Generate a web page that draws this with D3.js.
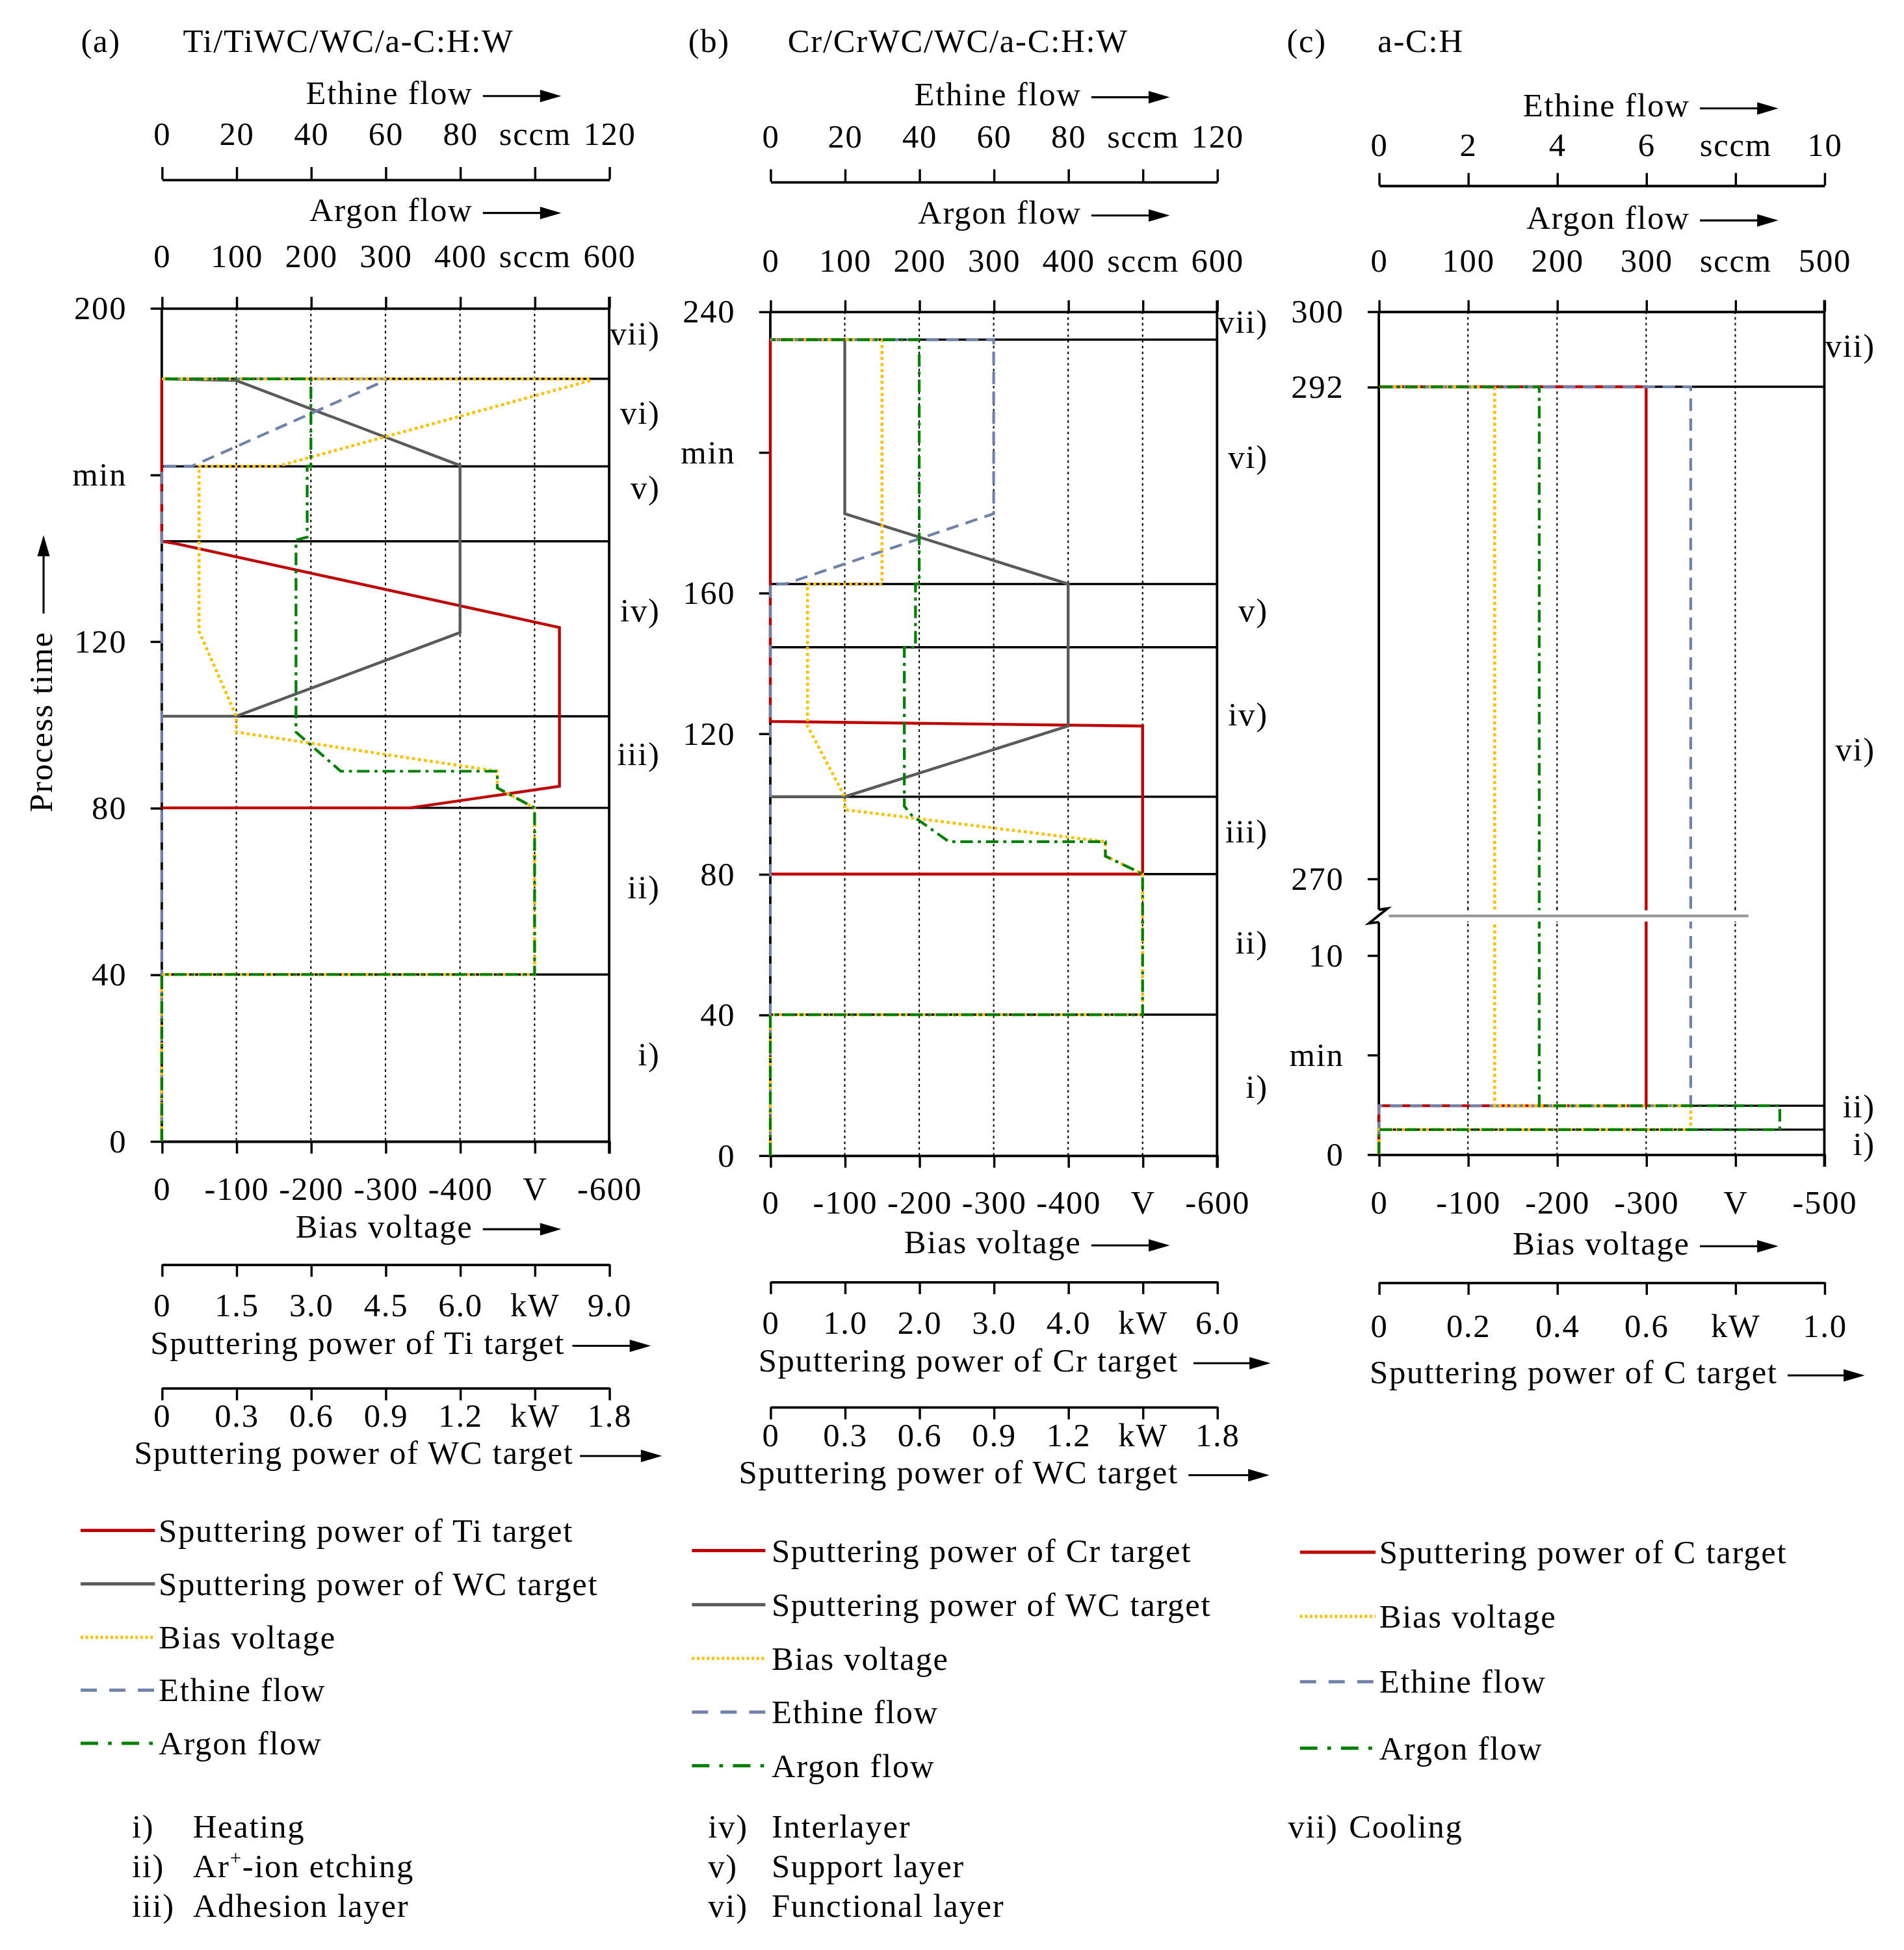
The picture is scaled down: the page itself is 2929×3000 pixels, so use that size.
<!DOCTYPE html>
<html lang="en">
<head>
<meta charset="UTF-8">
<title>Deposition process parameters</title>
<script src="https://cdn.jsdelivr.net/npm/d3@7"></script>
<style>
  body { margin: 0; background: #fff; }
  text { font-family: "Liberation Serif", "Times New Roman", serif; font-size: 26.5px; letter-spacing: 0.9px; fill: #000; }
</style>
</head>
<body>
<script>
// ---------- data ----------
// phase boundaries in min
var phasesA = [0, 40, 80, 102, 144, 162, 183, 200];
var phasesB = [0, 40, 80, 102, 144.5, 162.5, 232, 240];
var phasesC = [0, 1.24, 2.44, 292, 300];
var phaseNames = ["i)", "ii)", "iii)", "iv)", "v)", "vi)", "vii)"];
var phaseNamesC = ["i)", "ii)", "vi)", "vii)"];
// where the phase names sit (min)
var phaseLabelAtA = [21, 61, 93, 127.5, 157, 175, 194];
var phaseLabelAtB = [19.6, 60.7, 92.2, 125.5, 155.2, 198.8, 237.3];
var phaseLabelAtC = [0.55, 2.43, 275.8, 296.4];

// time axis ticks
var timeTicksA = [0, 40, 80, 120, 160, 200];
var timeLabelsA = ["0", "40", "80", "120", "min", "200"];
var timeTicksB = [0, 40, 80, 120, 160, 200, 240];
var timeLabelsB = ["0", "40", "80", "120", "160", "min", "240"];
var timeTicksC = [0, 5, 10, 270, 292, 300];
var timeLabelsC = ["0", "min", "10", "270", "292", "300"];

// value axes ticks
var ethineTicksAB = [0, 20, 40, 60, 80, 100, 120];
var ethineLabelsAB = ["0", "20", "40", "60", "80", "sccm", "120"];
var ethineTicksC = [0, 2, 4, 6, 8, 10];
var ethineLabelsC = ["0", "2", "4", "6", "sccm", "10"];
var argonTicksAB = [0, 100, 200, 300, 400, 500, 600];
var argonLabelsAB = ["0", "100", "200", "300", "400", "sccm", "600"];
var argonTicksC = [0, 100, 200, 300, 400, 500];
var argonLabelsC = ["0", "100", "200", "300", "sccm", "500"];
var biasTicksAB = [0, 100, 200, 300, 400, 500, 600];
var biasLabelsAB = ["0", "-100", "-200", "-300", "-400", "V", "-600"];
var biasTicksC = [0, 100, 200, 300, 400, 500];
var biasLabelsC = ["0", "-100", "-200", "-300", "V", "-500"];
var tiPowerTicks = [0, 1.5, 3, 4.5, 6, 7.5, 9];
var tiPowerLabels = ["0", "1.5", "3.0", "4.5", "6.0", "kW", "9.0"];
var crPowerTicks = [0, 1, 2, 3, 4, 5, 6];
var crPowerLabels = ["0", "1.0", "2.0", "3.0", "4.0", "kW", "6.0"];
var wcPowerTicks = [0, 0.3, 0.6, 0.9, 1.2, 1.5, 1.8];
var wcPowerLabels = ["0", "0.3", "0.6", "0.9", "1.2", "kW", "1.8"];
var cPowerTicks = [0, 0.2, 0.4, 0.6, 0.8, 1.0];
var cPowerLabels = ["0", "0.2", "0.4", "0.6", "kW", "1.0"];

// series: [time in min, value]
var tiPowerA = [[80, 0], [80, 5.0], [85.2, 8.0], [123.3, 8.0], [143.4, 0.3], [144, 0], [183, 0]];
var wcPowerA = [[102, 0], [102, 0.3], [122.1, 1.2], [162.2, 1.2], [182.6, 0.3], [183, 0]];
var biasA = [[0, 0], [40, 0], [40, 500], [80, 500], [84.8, 450], [88.8, 450], [98.2, 100], [102, 100],
             [122.4, 50], [162, 50], [162, 155], [182.6, 575], [183, 575], [183, 0]];
var ethineA = [[0, 0], [162, 0], [162, 8], [182.6, 60], [183, 60], [183, 0]];
var argonA = [[0, 0], [40, 0], [40, 500], [80, 500], [84.8, 450], [88.8, 450], [88.8, 240], [98.2, 180],
              [144.3, 180], [145, 195], [162, 195], [162, 200], [183, 200], [183, 0]];

var crPowerB = [[80, 0], [80, 5], [122.1, 5], [123.4, 0], [232, 0]];
var wcPowerB = [[102, 0], [102, 0.3], [122.1, 1.2], [162.5, 1.2], [182.5, 0.3], [232, 0.3], [232, 0]];
var biasB = [[0, 0], [40, 0], [40, 500], [80, 500], [85.1, 450], [89.2, 450], [98.3, 100], [102, 100],
             [122.1, 50], [162.5, 50], [162.5, 150], [232, 150], [232, 0]];
var ethineB = [[0, 0], [162.5, 0], [162.5, 4], [182.5, 60], [232, 60], [232, 0]];
var argonB = [[0, 0], [40, 0], [40, 500], [80, 500], [85.1, 450], [89.2, 450], [89.2, 240], [96.7, 190],
              [99.3, 180], [144.5, 180], [144.5, 195], [162.5, 195], [162.5, 200], [232, 200], [232, 0]];

var cPowerC = [[0, 0], [2.44, 0], [2.44, 0.6], [292, 0.6], [292, 0]];
var biasC = [[0, 0], [1.24, 0], [1.24, 350], [2.44, 350], [2.44, 130], [292, 130], [292, 0]];
var ethineC = [[0, 0], [2.44, 0], [2.44, 7], [292, 7], [292, 0]];
var argonC = [[0, 0], [1.24, 0], [1.24, 450], [2.44, 450], [2.44, 180], [292, 180], [292, 0]];

var legendA = ["Sputtering power of Ti target", "Sputtering power of WC target", "Bias voltage", "Ethine flow", "Argon flow"];
var legendB = ["Sputtering power of Cr target", "Sputtering power of WC target", "Bias voltage", "Ethine flow", "Argon flow"];
var legendC = ["Sputtering power of C target", "Bias voltage", "Ethine flow", "Argon flow"];

var stepsA = [["i)", "Heating"], ["ii)", "Ar+-ion etching"], ["iii)", "Adhesion layer"]];
var stepsB = [["iv)", "Interlayer"], ["v)", "Support layer"], ["vi)", "Functional layer"]];
var stepsC = [["vii)", "Cooling"]];

// ---------- styles ----------
var styles = {
    p1: { color: '#c00000', dash: null, width: 2.3, legDash: null },
    p2: { color: '#5a5a5a', dash: null, width: 2.3, legDash: null },
    bias: { color: '#ffc000', dash: '2.4,2.4', width: 2.4, legDash: '2,2' },
    eth: { color: '#6f82aa', dash: '10,6', width: 2.2, legDash: '13,10' },
    ar: { color: '#008000', dash: '10,4,2.5,4', width: 2.2, legDash: '14,8,3,8' }
};

var svg = d3.select('body')
    .append('svg')
    .attr('width', 2929)
    .attr('height', 3000)
    .attr('viewBox', '0 0 1530 1567');

function arrow(x1, x2, y) {
    svg.append('line')
        .attr('x1', x1).attr('x2', x2 - 12)
        .attr('y1', y).attr('y2', y)
        .attr('stroke', '#000').attr('stroke-width', 1.6);
    svg.append('path')
        .attr('d', 'M' + x2 + ',' + y + 'L' + (x2 - 17) + ',' + (y - 5) + 'L' + (x2 - 17) + ',' + (y + 5) + 'Z')
        .attr('fill', '#000');
}

function titleArrow(text, xEnd, y, a1, a2) {
    svg.append('text')
        .attr('x', xEnd).attr('y', y)
        .attr('text-anchor', 'end')
        .text(text);
    arrow(a1, a2, y - 6.5);
}

// style an axis: remove d3 fonts, set label baseline offset
function styleAxis(g, labelY, keepDomain) {
    g.attr('font-family', null).attr('font-size', null);
    g.selectAll('.tick line').attr('stroke-width', 1.8);
    g.select('.domain').attr('stroke-width', 2);
    if (!keepDomain) g.select('.domain').remove();
    if (labelY !== null) {
        g.selectAll('.tick text').attr('y', labelY).attr('dy', null);
    }
}

var panels = [
    {
        tag: '(a)', title: 'Ti/TiWC/WC/a-C:H:W', tagX: 65, titleX: 147,
        x0: 130, x1: 489.5,
        yDomain: [0, 200], yRange: [917, 247.5],
        timeTicks: timeTicksA, timeLabels: timeLabelsA,
        phases: phasesA, phaseNames: phaseNames, phaseAt: phaseLabelAtA,
        eth: [120, ethineTicksAB, ethineLabelsAB, 144.2, -27.9, 83.6],
        ar: [600, argonTicksAB, argonLabelsAB, -33, 177.6],
        bias: [600, biasTicksAB, biasLabelsAB, 47, 994.3],
        p1: [9, tiPowerTicks, tiPowerLabels, 1016, 41.5, 1088, 'Sputtering power of Ti target', 324, 330, 393],
        p2: [1.8, wcPowerTicks, wcPowerLabels, 1115.3, 31.2, 1176.5, 'Sputtering power of WC target', 331, 336, 402],
        series: [['p1', tiPowerA], ['p2', wcPowerA], ['eth', ethineA], ['bias', biasA], ['ar', argonA]],
        legend: legendA, legendKeys: ['p1', 'p2', 'bias', 'eth', 'ar'],
        legX: [64.8, 124.5, 127.5], legY: [1229.8, 1272.8, 1315.8, 1358.2, 1400.9],
        steps: stepsA, stepX: [106, 155]
    },
    {
        tag: '(b)', title: 'Cr/CrWC/WC/a-C:H:W', tagX: 553, titleX: 633,
        x0: 619, x1: 978,
        yDomain: [0, 240], yRange: [928.4, 250.3],
        timeTicks: timeTicksB, timeLabels: timeLabelsB,
        phases: phasesB, phaseNames: phaseNames, phaseAt: phaseLabelAtB,
        eth: [120, ethineTicksAB, ethineLabelsAB, 146, -27.7, 84.6],
        ar: [600, argonTicksAB, argonLabelsAB, -31.8, 179.6],
        bias: [600, biasTicksAB, biasLabelsAB, 46.6, 1007.3],
        p1: [6, crPowerTicks, crPowerLabels, 1030, 42, 1102, 'Sputtering power of Cr target', 328, 340, 402],
        p2: [1.8, wcPowerTicks, wcPowerLabels, 1130.6, 31.4, 1192, 'Sputtering power of WC target', 328, 336, 401],
        series: [['p1', crPowerB], ['p2', wcPowerB], ['eth', ethineB], ['bias', biasB], ['ar', argonB]],
        legend: legendB, legendKeys: ['p1', 'p2', 'bias', 'eth', 'ar'],
        legX: [556, 615, 620], legY: [1246, 1289.5, 1332.7, 1375.9, 1418.9],
        steps: stepsB, stepX: [569, 620]
    },
    {
        tag: '(c)', title: 'a-C:H', tagX: 1034, titleX: 1107,
        x0: 1108, x1: 1466,
        yDomain: [0, 10, 270, 292, 300], yRange: [927.6, 767.6, 706, 310.8, 250.2],
        timeTicks: timeTicksC, timeLabels: timeLabelsC,
        phases: phasesC, phaseNames: phaseNamesC, phaseAt: phaseLabelAtC,
        eth: [10, ethineTicksC, ethineLabelsC, 149, -23.7, 93.6],
        ar: [500, argonTicksC, argonLabelsC, -31.7, 183.6],
        bias: [500, biasTicksC, biasLabelsC, 47.4, 1008],
        p1: [1, cPowerTicks, cPowerLabels, 1030.5, 43.9, 1111.8, 'Sputtering power of C target', 320.5, 328.5, 390.5],
        p2: null,
        series: [['p1', cPowerC], ['eth', ethineC], ['bias', biasC], ['ar', argonC]],
        legend: legendC, legendKeys: ['p1', 'bias', 'eth', 'ar'],
        legX: [1044.6, 1105.4, 1108.3], legY: [1247.3, 1299, 1351.4, 1404.8],
        steps: stepsC, stepX: [1035, 1084],
        brk: 736
    }
];

panels.forEach(function(P) {
    var top = P.yRange[P.yRange.length - 1];
    var bottom = P.yRange[0];
    var y = d3.scaleLinear().domain(P.yDomain).range(P.yRange);
    var xs = {
        eth: d3.scaleLinear().domain([0, P.eth[0]]).range([P.x0, P.x1]),
        ar: d3.scaleLinear().domain([0, P.ar[0]]).range([P.x0, P.x1]),
        bias: d3.scaleLinear().domain([0, P.bias[0]]).range([P.x0, P.x1]),
        p1: d3.scaleLinear().domain([0, P.p1[0]]).range([P.x0, P.x1])
    };
    if (P.p2) xs.p2 = d3.scaleLinear().domain([0, P.p2[0]]).range([P.x0, P.x1]);

    // header
    svg.append('text').attr('x', P.tagX).attr('y', 41.8).text(P.tag);
    svg.append('text').attr('x', P.titleX).attr('y', 41.8).text(P.title);

    // dotted grid
    var grid = svg.append('g');
    function drawGrid(y1, y2) {
        grid.selectAll(null)
            .data(P.ar[1].slice(1, -1))
            .enter()
            .append('line')
            .attr('x1', function(d) { return xs.ar(d); })
            .attr('x2', function(d) { return xs.ar(d); })
            .attr('y1', y1).attr('y2', y2)
            .attr('stroke', '#000')
            .attr('stroke-width', 1.1)
            .attr('stroke-dasharray', '2,2.6');
    }
    drawGrid(top, bottom);

    // phase lines
    svg.append('g').selectAll('line')
        .data(P.phases.slice(1, -1))
        .enter()
        .append('line')
        .attr('x1', P.x0).attr('x2', P.x1)
        .attr('y1', function(d) { return y(d); })
        .attr('y2', function(d) { return y(d); })
        .attr('stroke', '#000')
        .attr('stroke-width', 1.8);

    // ethine axis (separate, above)
    var ga = svg.append('g').attr('transform', 'translate(0,' + P.eth[3] + ')')
        .call(d3.axisTop(xs.eth).tickValues(P.eth[1]).tickSize(10).tickSizeOuter(0)
            .tickFormat(function(d, i) { return P.eth[2][i]; }));
    styleAxis(ga, P.eth[4], true);
    titleArrow('Ethine flow', P.x0 + 250, P.eth[5], P.x0 + 258, P.x0 + 321);

    // argon axis = plot top
    var gb = svg.append('g').attr('transform', 'translate(0,' + top + ')')
        .call(d3.axisTop(xs.ar).tickValues(P.ar[1]).tickSize(9).tickSizeOuter(0)
            .tickFormat(function(d, i) { return P.ar[2][i]; }));
    styleAxis(gb, P.ar[3], true);
    titleArrow('Argon flow', P.x0 + 250, P.ar[4], P.x0 + 258, P.x0 + 321);

    // bias axis = plot bottom
    var gc = svg.append('g').attr('transform', 'translate(0,' + bottom + ')')
        .call(d3.axisBottom(xs.bias).tickValues(P.bias[1]).tickSize(10).tickSizeOuter(0)
            .tickFormat(function(d, i) { return P.bias[2][i]; }));
    styleAxis(gc, P.bias[3], true);
    titleArrow('Bias voltage', P.x0 + 250, P.bias[4], P.x0 + 258, P.x0 + 321);

    // power axes below
    [P.p1, P.p2].forEach(function(p, k) {
        if (!p) return;
        var sc = k === 0 ? xs.p1 : xs.p2;
        var gp = svg.append('g').attr('transform', 'translate(0,' + p[3] + ')')
            .call(d3.axisBottom(sc).tickValues(p[1]).tickSize(10).tickSizeOuter(0)
                .tickFormat(function(d, i) { return p[2][i]; }));
        styleAxis(gp, p[4], true);
        titleArrow(p[6], P.x0 + p[7], p[5], P.x0 + p[8], P.x0 + p[9]);
    });

    // time axis
    var gt = svg.append('g').attr('transform', 'translate(' + P.x0 + ',0)')
        .call(d3.axisLeft(y).tickValues(P.timeTicks).tickSize(9).tickPadding(19)
            .tickFormat(function(d, i) { return P.timeLabels[i]; }));
    styleAxis(gt, null, false);

    // left / right borders
    if (P.brk) {
        svg.append('line').attr('x1', P.x0).attr('x2', P.x0).attr('y1', top).attr('y2', P.brk - 5)
            .attr('stroke', '#000').attr('stroke-width', 2);
        svg.append('line').attr('x1', P.x0).attr('x2', P.x0).attr('y1', P.brk + 5).attr('y2', bottom)
            .attr('stroke', '#000').attr('stroke-width', 2);
    } else {
        svg.append('line').attr('x1', P.x0).attr('x2', P.x0).attr('y1', top).attr('y2', bottom)
            .attr('stroke', '#000').attr('stroke-width', 2);
    }
    svg.append('line').attr('x1', P.x1).attr('x2', P.x1).attr('y1', top - 9).attr('y2', bottom + 10)
        .attr('stroke', '#000').attr('stroke-width', 2);

    // phase names
    svg.append('g').selectAll('text')
        .data(P.phaseNames)
        .enter()
        .append('text')
        .attr('x', P.x1 + 41)
        .attr('y', function(d, i) { return y(P.phaseAt[i]); })
        .attr('dy', '0.35em')
        .attr('text-anchor', 'end')
        .text(function(d) { return d; });

    // series
    P.series.forEach(function(s) {
        var st = styles[s[0]];
        var line = d3.line()
            .x(function(d) { return xs[s[0]](d[1]); })
            .y(function(d) { return y(d[0]); });
        svg.append('path')
            .datum(s[1])
            .attr('d', line)
            .attr('fill', 'none')
            .attr('stroke', st.color)
            .attr('stroke-width', st.width)
            .attr('stroke-dasharray', st.dash);
    });

    // axis break (panel c)
    if (P.brk) {
        svg.append('rect').attr('x', P.x0 + 2).attr('y', P.brk - 4.5)
            .attr('width', 1405 - P.x0 - 2).attr('height', 9).attr('fill', '#fff');
        svg.append('line').attr('x1', P.x0 + 8).attr('x2', 1405).attr('y1', P.brk).attr('y2', P.brk)
            .attr('stroke', '#999').attr('stroke-width', 2.2);
        svg.append('path')
            .attr('d', 'M' + P.x0 + ',' + (P.brk - 5) + 'L' + (P.x0 + 7) + ',' + (P.brk - 6) +
                'L' + (P.x0 - 8) + ',' + (P.brk + 6) + 'L' + P.x0 + ',' + (P.brk + 5))
            .attr('fill', 'none').attr('stroke', '#000').attr('stroke-width', 2);
        drawGrid(P.brk - 6, P.brk + 6);
    }

    // legend
    var lg = svg.append('g');
    P.legend.forEach(function(name, i) {
        var st = styles[P.legendKeys[i]];
        lg.append('line')
            .attr('x1', P.legX[0]).attr('x2', P.legX[1])
            .attr('y1', P.legY[i]).attr('y2', P.legY[i])
            .attr('stroke', st.color)
            .attr('stroke-width', 2.6)
            .attr('stroke-dasharray', st.legDash);
        lg.append('text')
            .attr('x', P.legX[2]).attr('y', P.legY[i] + 9)
            .text(name);
    });

    // process steps
    P.steps.forEach(function(s, i) {
        var yy = 1476.5 + i * 31.9;
        svg.append('text').attr('x', P.stepX[0]).attr('y', yy).text(s[0]);
        var t = svg.append('text').attr('x', P.stepX[1]).attr('y', yy);
        if (s[1].indexOf('Ar+') === 0) {
            t.append('tspan').text('Ar');
            t.append('tspan').attr('dy', -10).attr('font-size', 16).text('+');
            t.append('tspan').attr('dy', 10).text(s[1].slice(3));
        } else {
            t.text(s[1]);
        }
    });
});

// vertical label of panel (a)
svg.append('text')
    .attr('transform', 'translate(42,580) rotate(-90)')
    .attr('text-anchor', 'middle')
    .text('Process time');
svg.append('line').attr('x1', 35).attr('x2', 35).attr('y1', 493).attr('y2', 444)
    .attr('stroke', '#000').attr('stroke-width', 1.6);
svg.append('path').attr('d', 'M35,430L30,447L40,447Z').attr('fill', '#000');
</script>
</body>
</html>
